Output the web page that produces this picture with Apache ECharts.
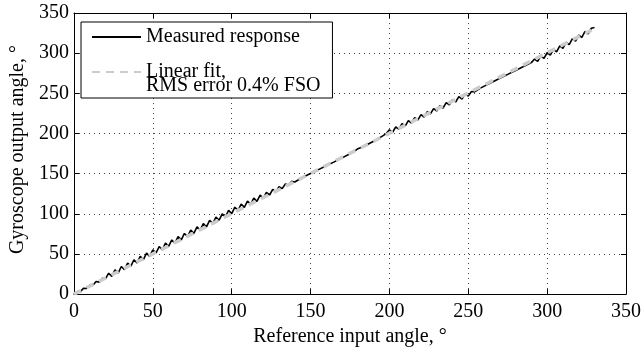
<!DOCTYPE html>
<html>
<head>
<meta charset="utf-8">
<script src="https://cdn.jsdelivr.net/npm/echarts@6/dist/echarts.min.js"></script>
<style>html,body{margin:0;padding:0;background:#fff}#c{width:644px;height:352px}</style>
</head>
<body>
<div id="c"></div>
<script>
// Axis ticks
const xTicks = [0, 50, 100, 150, 200, 250, 300, 350];
const yTicks = [0, 50, 100, 150, 200, 250, 300, 350];

const measuredX = [0,2,4,6,8,10,12,14,16,18,20,
  22,24,26,28,30,32,34,36,38,40,42,44,46,48,50,52,54,56,58,60,62,64,66,68,70,72,74,76,78,80,
  82,84,86,88,90,92,94,96,98,100,102,104,106,108,110,112,114,116,118,120,122,124,126,128,130,132,134,136,138,140,
  145,150,155,160,165,170,175,178,180,182,186,190,194,198,
  200,202,204,206,208,210,212,214,216,218,220,222,224,226,228,230,232,234,236,238,240,242,244,246,248,250,252,254,
  258,262,266,270,275,280,285,290,
  292,294,296,298,300,302,304,306,308,310,312,314,316,318,320,322,324,326,328,330];
const measuredY = [0,3.2,2.8,7.3,6.9,11.4,10.9,15.6,14.9,19.8,19.2,
  26.0,22.0,30.2,26.2,34.4,30.4,38.6,34.6,42.8,38.8,47.0,43.0,51.0,47.0,55.2,51.2,59.2,55.2,63.4,59.4,67.4,63.4,71.5,67.5,75.5,71.5,79.6,75.6,83.7,79.7,
  87.8,83.8,91.9,87.9,96.0,92.0,100.0,96.0,104.2,100.2,108.2,104.2,112.0,108.0,115.8,111.8,119.5,115.5,123.2,119.2,126.6,123.4,130.4,127.2,133.7,131.3,137.0,135.4,140.4,139.6,
  145.5,150.2,155.0,159.8,164.6,169.6,174.8,178.0,181.0,182.4,186.2,190.4,194.8,199.8,
  204.5,201.5,208.3,205.3,212.1,209.1,215.9,212.9,219.7,216.7,223.5,220.5,227.3,224.3,231.0,228.0,234.7,231.7,238.5,235.5,242.2,239.2,245.9,242.9,249.7,246.5,252.2,251.8,
  256.8,260.8,264.8,268.8,273.6,278.5,283.3,288.2,
  292.7,289.7,296.5,293.5,300.5,297.5,304.7,301.7,309.0,306.0,313.5,310.5,318.0,315.0,322.5,319.5,327.0,324.0,331.0,332.0];

// Linear fit end points
const fitX = [0, 328];
const fitY = [0, 328.5];

const seriesNames = ['Measured response', 'Linear fit,'];
const fitLegendText = '\nLinear fit,\nRMS error 0.4% FSO';

const FONT = '"Liberation Serif", "Times New Roman", serif';
const chart = echarts.init(document.getElementById('c'), null, {renderer: 'canvas'});

const measured = measuredX.map((x, i) => [x, measuredY[i]]);
const fit = fitX.map((x, i) => [x, fitY[i]]);

const gridLine = {show: true, lineStyle: {color: '#444', type: [1, 4], width: 1}};
const axisCommon = {
  type: 'value', min: xTicks[0], max: xTicks[xTicks.length - 1], interval: 50,
  axisLine: {show: true, onZero: false, lineStyle: {color: '#000', width: 1}},
  axisTick: {show: true, inside: true, length: 5, lineStyle: {color: '#000'}},
};

chart.setOption({
  animation: false,
  backgroundColor: '#fff',
  grid: {left: 72, right: 14, top: 13, bottom: 55, containLabel: false},
  legend: {
    left: 81, top: 22, orient: 'vertical',
    data: seriesNames,
    itemWidth: 49, itemHeight: 14, itemGap: 1,
    padding: [5, 12, 2, 10],
    backgroundColor: '#fff', borderColor: '#000', borderWidth: 1, borderRadius: 0,
    itemStyle: {opacity: 0},
    textStyle: {fontFamily: FONT, fontSize: 20, color: '#000', lineHeight: 14},
    formatter: name => name === seriesNames[1] ? fitLegendText : name,
    selectedMode: false,
  },
  xAxis: [
    Object.assign({}, axisCommon, {
      position: 'bottom',
      splitLine: gridLine,
      axisLabel: {fontFamily: FONT, fontSize: 20, color: '#000', margin: 8},
      name: 'Reference input angle, \u00b0', nameLocation: 'middle', nameGap: 32,
      nameTextStyle: {fontFamily: FONT, fontSize: 20, color: '#000'}
    }),
    Object.assign({}, axisCommon, {
      position: 'top', splitLine: {show: false}, axisLabel: {show: false}
    })
  ],
  yAxis: [
    Object.assign({}, axisCommon, {
      min: yTicks[0], max: yTicks[yTicks.length - 1],
      position: 'left',
      splitLine: gridLine,
      axisLabel: {fontFamily: FONT, fontSize: 20, color: '#000', margin: 5},
      name: 'Gyroscope output angle, \u00b0', nameLocation: 'middle', nameGap: 46,
      nameTextStyle: {fontFamily: FONT, fontSize: 20, color: '#000', padding: [0, 0, 0, 8]}
    }),
    Object.assign({}, axisCommon, {
      min: yTicks[0], max: yTicks[yTicks.length - 1],
      position: 'right', splitLine: {show: false}, axisLabel: {show: false}
    })
  ],
  series: [
    {
      name: seriesNames[0], type: 'line', data: measured, xAxisIndex: 0, yAxisIndex: 0,
      showSymbol: false, symbol: 'none',
      lineStyle: {color: '#000', width: 1.6}, itemStyle: {color: '#000'}
    },
    {
      name: seriesNames[1], type: 'line', data: fit, xAxisIndex: 0, yAxisIndex: 0,
      showSymbol: false, symbol: 'none',
      lineStyle: {color: '#cccccc', width: 3.5, type: [8, 6]}, itemStyle: {color: '#cccccc'}
    }
  ]
});
</script>
</body>
</html>
